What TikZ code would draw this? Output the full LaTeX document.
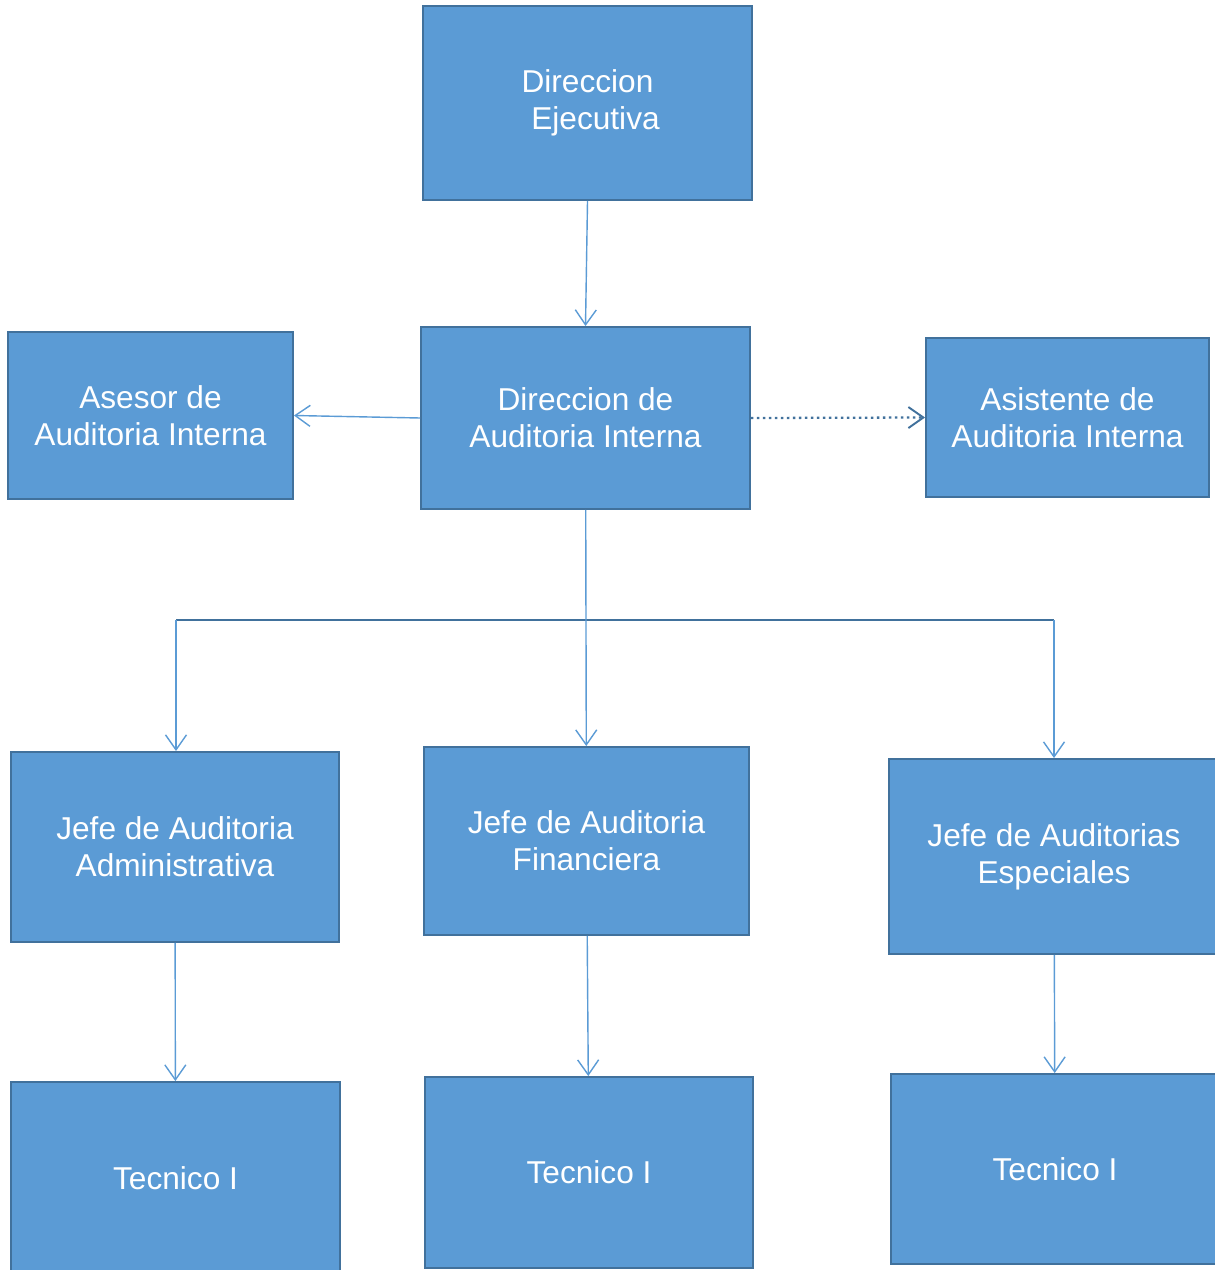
\documentclass[tikz,border=0pt]{standalone}
\usepackage{fontspec}
\setmainfont{Liberation Sans}
\usetikzlibrary{arrows.meta}

\definecolor{boxfill}{HTML}{5B9BD5}
\definecolor{boxline}{HTML}{41719C}

\begin{document}
\begin{tikzpicture}[x=0.02cm,y=-0.02cm,
  box/.style={draw=boxline, line width=1.1pt, fill=boxfill, text=white, align=center,
    font=\fontsize{18}{21}\selectfont, inner sep=0pt},
  conn/.style={draw=boxfill, line width=0.8pt, -{Straight Barb[length=0.3cm,width=0.42cm,line width=0.8pt]}},
  dotconn/.style={draw=boxline, line width=1.3pt, dash pattern=on 0.05cm off 0.07cm,
    -{Straight Barb[length=0.3cm,width=0.42cm,line width=1.1pt]}},
  bus/.style={draw=boxline, line width=1.1pt}]
\useasboundingbox (0,0) rectangle (1214,1270);
% top
\node[box, minimum width=6.58cm, minimum height=3.88cm] (dirEje) at (587.5,103) {Direccion\\ \hspace*{0.32cm}Ejecutiva};
\node[box, minimum width=6.58cm, minimum height=3.64cm] (dirAud) at (585.5,418) {Direccion de\\Auditoria Interna};
\node[box, minimum width=5.70cm, minimum height=3.34cm] (asesor) at (150.5,415.5) {Asesor de\\Auditoria Interna};
\node[box, minimum width=5.66cm, minimum height=3.18cm] (asist) at (1067.5,417.5) {Asistente de\\Auditoria Interna};
% jefes
\node[box, minimum width=6.56cm, minimum height=3.80cm] (jefeAdm) at (175,847) {Jefe de Auditoria\\Administrativa};
\node[box, minimum width=6.50cm, minimum height=3.76cm] (jefeFin) at (586.5,841) {Jefe de Auditoria\\Financiera};
\node[box, minimum width=6.60cm, minimum height=3.90cm] (jefeEsp) at (1054,856.5) {Jefe de Auditorias\\Especiales};
% tecnicos
\node[box, minimum width=6.58cm, minimum height=3.84cm] (tecAdm) at (175.5,1178) {Tecnico I};
\node[box, minimum width=6.56cm, minimum height=3.82cm] (tecFin) at (589,1172.5) {Tecnico I};
\node[box, minimum width=6.56cm, minimum height=3.80cm] (tecEsp) at (1055,1169) {Tecnico I};

\coordinate (busL) at (176,620);
\coordinate (busR) at (1054,620);

\draw[conn] (dirEje.south) -- (dirAud.north);
\draw[conn] (dirAud.west) -- (asesor.east);
\draw[dotconn] (dirAud.east) -- (asist.west);
\draw[bus] (busL) -- (busR);
\draw[conn] (dirAud) -- (jefeFin);
\draw[conn] (busL) -- (busL |- jefeAdm.north);
\draw[conn] (busR) -- (busR |- jefeEsp.north);
\draw[conn] (jefeAdm) -- (tecAdm);
\draw[conn] (jefeFin) -- (tecFin);
\draw[conn] (jefeEsp) -- (tecEsp);
\end{tikzpicture}
\end{document}
